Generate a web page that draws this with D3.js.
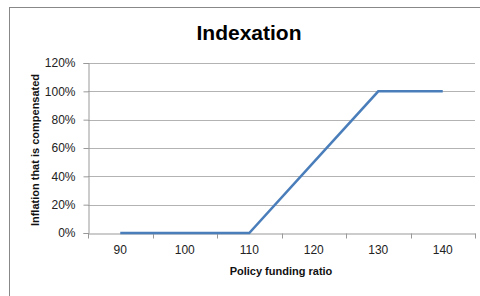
<!DOCTYPE html>
<html><head><meta charset="utf-8">
<script src="https://cdn.jsdelivr.net/npm/d3@7"></script>
<style>body{margin:0;background:#fff}svg{display:block}text{font-family:"Liberation Sans",Arial,sans-serif}</style>
</head><body><svg id="c" width="480" height="296"></svg>
<script>
const categories = ["90","100","110","120","130","140"];
const values = [0, 0, 0, 0.5, 1, 1];
const yTicks = [0, 0.2, 0.4, 0.6, 0.8, 1.0, 1.2];
const title = "Indexation";
const xTitle = "Policy funding ratio";
const yTitle = "Inflation that is compensated";

const svg = d3.select("#c");
svg.append("rect").attr("x",9.5).attr("y",7.5).attr("width",480).attr("height",300)
  .attr("fill","#fff").attr("stroke","#888").attr("stroke-width",1);

const L=88, R=475, T=63, B=233;
const x = d3.scaleBand().domain(categories).range([L,R]);
const y = d3.scaleLinear().domain([0,1.2]).range([B,T]);

// gridlines
svg.append("g").selectAll("line").data(yTicks.filter(d=>d>0)).join("line")
  .attr("x1",L).attr("x2",R).attr("y1",d=>Math.round(y(d))+0.5).attr("y2",d=>Math.round(y(d))+0.5)
  .attr("stroke","#b3b3b3").attr("stroke-width",1);

// y axis
const ya = svg.append("g").attr("transform",`translate(${L+0.5},0)`)
  .call(d3.axisLeft(y).tickValues(yTicks).tickFormat(d3.format(".0%")).tickSize(5).tickPadding(8));
ya.select(".domain").attr("stroke","#999");
ya.selectAll(".tick line").attr("stroke","#999");
ya.selectAll("text").attr("font-size",12).attr("fill","#222").style("font-family","Liberation Sans, Arial, sans-serif");

// x axis
const xa = svg.append("g").attr("transform",`translate(0,${B+0.5})`)
  .call(d3.axisBottom(x).tickSize(0).tickPadding(12));
xa.select(".domain").attr("stroke","#999");
xa.selectAll("text").attr("font-size",12).attr("fill","#222").style("font-family","Liberation Sans, Arial, sans-serif");
// band boundary ticks
xa.selectAll("line.bt").data(d3.range(categories.length+1)).join("line").attr("class","bt")
  .attr("x1",i=>Math.round(L+i*x.step())+0.5).attr("x2",i=>Math.round(L+i*x.step())+0.5)
  .attr("y1",0).attr("y2",5).attr("stroke","#999");

// line
const line = d3.line().x((d,i)=>x(categories[i])+x.bandwidth()/2).y(d=>y(d));
svg.append("path").datum(values).attr("d",line).attr("fill","none")
  .attr("stroke","#4a7ebb").attr("stroke-width",2.5);

// titles
svg.append("text").attr("x",249).attr("y",40).attr("text-anchor","middle")
  .attr("font-size",21).attr("font-weight","bold").attr("fill","#000").text(title);
svg.append("text").attr("x",281).attr("y",275).attr("text-anchor","middle")
  .attr("font-size",11).attr("font-weight","bold").attr("fill","#111").text(xTitle);
svg.append("text").attr("transform","translate(39,150) rotate(-90)").attr("text-anchor","middle")
  .attr("font-size",11).attr("font-weight","bold").attr("fill","#111").text(yTitle);
</script></body></html>
